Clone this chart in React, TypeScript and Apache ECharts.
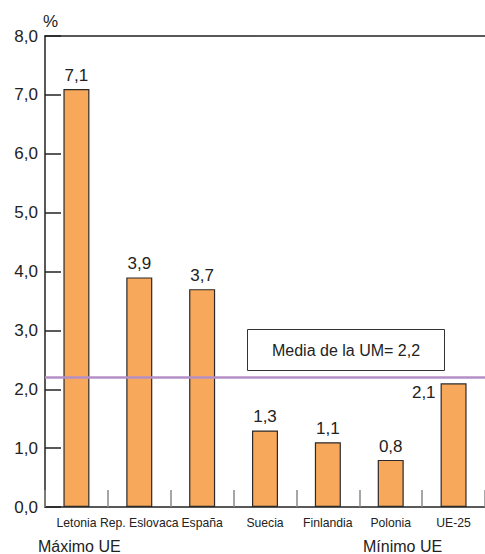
import React, { useEffect, useRef } from "react";
import * as echarts from "echarts";

const categories = ["Letonia", "Rep. Eslovaca", "España", "Suecia", "Finlandia", "Polonia", "UE-25"];
const values = [7.1, 3.9, 3.7, 1.3, 1.1, 0.8, 2.1];
const meanValue = 2.2;
const meanLabel = "Media de la UM= 2,2";
const yMin = 0;
const yMax = 8;
const yInterval = 1;

const fmt = (v: number) => v.toFixed(1).replace(".", ",");
const FONT2 = "'Liberation Sans', Arial, sans-serif";

export default function App() {
  const ref = useRef<HTMLDivElement>(null);
  useEffect(() => {
    document.body.style.margin = "0";
    const chart = echarts.init(ref.current!, undefined, { renderer: "svg" });
    chart.setOption({
      animation: false,
      grid: { left: 45, top: 36, bottom: 47, width: 448 },
      xAxis: [
        {
          type: "category",
          data: categories,
          axisLine: { lineStyle: { color: "#222", width: 1.5 } },
          axisTick: { show: true, inside: true, length: 17, interval: 0, lineStyle: { color: "#888", width: 1.5 } },
          axisLabel: { interval: 0, margin: 10, fontSize: 12.2, color: "#222", fontFamily: FONT2 },
        },
        {
          type: "category",
          position: "top",
          data: categories,
          axisLine: { lineStyle: { color: "#222", width: 1.5 } },
          axisTick: { show: false },
          axisLabel: { show: false },
        },
      ],
      yAxis: {
        type: "value",
        min: yMin,
        max: yMax,
        interval: yInterval,
        axisLine: { show: true, lineStyle: { color: "#222", width: 1.5 } },
        axisTick: { show: true, inside: true, length: 16, lineStyle: { color: "#222", width: 1.5 } },
        splitLine: { show: false },
        axisLabel: { fontSize: 17, color: "#222", margin: 7, fontFamily: FONT2, formatter: (v: number) => fmt(v) },
      },
      series: [
        {
          type: "bar",
          barWidth: 26,
          data: values.map((v, i) =>
            i === values.length - 1
              ? {
                  value: v,
                  label: { position: [-5, 1], align: "right", verticalAlign: "top" },
                }
              : v
          ),
          itemStyle: { color: "#F7A85B", borderColor: "#2a2a2a", borderWidth: 1.2 },
          label: {
            show: true,
            position: "top",
            distance: 5,
            fontSize: 17,
            color: "#222",
            fontFamily: FONT2,
            formatter: (p: any) => fmt(p.value),
          },
          markLine: {
            silent: true,
            symbol: "none",
            label: { show: false },
            lineStyle: { color: "#B48FC6", width: 2.5, type: "solid" },
            data: [{ yAxis: meanValue }],
          },
        },
      ],
      graphic: [
        {
          type: "text",
          left: 43,
          top: 13,
          style: { text: "%", fontSize: 17, fill: "#222", fontFamily: FONT2 },
        },
        {
          type: "group",
          left: 247,
          top: 329,
          children: [
            {
              type: "rect",
              shape: { x: 0, y: 0, width: 197, height: 41 },
              style: { fill: "#fff", stroke: "#333", lineWidth: 1 },
            },
            {
              type: "text",
              x: 98.5,
              y: 21,
              style: { text: meanLabel, fontSize: 16, fill: "#222", fontFamily: FONT2, align: "center", verticalAlign: "middle" },
            },
          ],
        },
        {
          type: "text",
          left: 38,
          top: 538,
          style: { text: "Máximo UE", fontSize: 16, fill: "#222", fontFamily: FONT2 },
        },
        {
          type: "text",
          left: 363,
          top: 538,
          style: { text: "Mínimo UE", fontSize: 16, fill: "#222", fontFamily: FONT2 },
        },
      ],
    });
    return () => chart.dispose();
  }, []);
  return <div ref={ref} style={{ width: 485, height: 554 }} />;
}
